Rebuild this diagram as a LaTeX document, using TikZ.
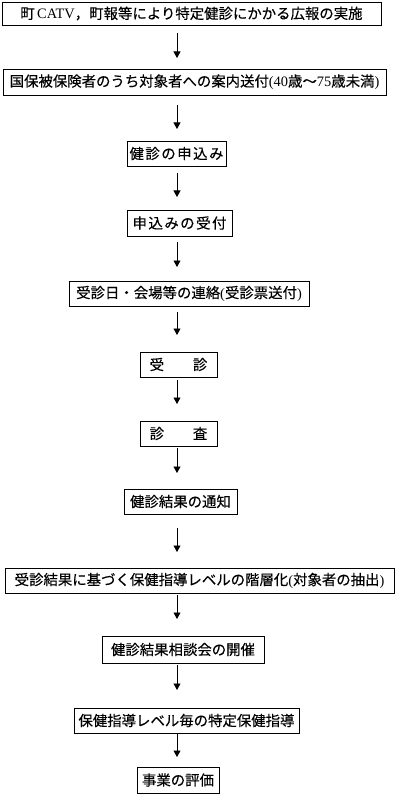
\documentclass[tikz,border=0pt]{standalone}
\usepackage{fontspec}
\setmainfont{Noto Sans CJK JP}[FakeBold=0.3]
\newfontfamily\lt{Liberation Serif}
\usetikzlibrary{arrows.meta}
\tikzset{
  box/.style={draw=black, line width=0.9pt, inner sep=0pt, fill=white,
    font=\fontsize{14.4pt}{16pt}\selectfont},
  arr/.style={line width=0.8pt, -{Triangle[length=6.5pt,width=7pt]}}
}
\begin{document}
\begin{tikzpicture}[x=1pt,y=-1pt]
\useasboundingbox[fill=white] (0,0) rectangle (402,794);
\node[box, minimum width=379pt, minimum height=23pt] (b1) at (191.5,13.5) {町\,{\lt CATV}，町報等により特定健診にかかる広報の実施};
\node[box, minimum width=383pt, minimum height=26pt] (b2) at (194.5,82) {国保被保険者のうち対象者への案内送付{\lt (40}歳～{\lt 75}歳未満{\lt )}};
\node[box, minimum width=99pt, minimum height=25pt] (b3) at (176.5,153.5) {健\kern1.5pt 診\kern1.5pt の\kern1.5pt 申\kern1.5pt 込\kern1.5pt み};
\node[box, minimum width=105pt, minimum height=26pt] (b4) at (179.5,223) {申\kern1.5pt 込\kern1.5pt み\kern1.5pt の\kern1.5pt 受\kern1.5pt 付};
\node[box, minimum width=240pt, minimum height=25pt] (b5) at (189,293.5) {受診日・会場等の連絡{\lt (}受診票送付{\lt )}};
\node[box, minimum width=77pt, minimum height=25pt] (b6) at (178.5,364.5) {受　　診};
\node[box, minimum width=77pt, minimum height=25pt] (b7) at (178.5,433.5) {診　　査};
\node[box, minimum width=113pt, minimum height=25pt] (b8) at (180.5,501.5) {健診結果の通知};
\node[box, minimum width=389pt, minimum height=25pt] (b9) at (199.5,580.5) {受診結果に基づく保健指導レベルの階層化{\lt (}対象者の抽出{\lt )}};
\node[box, minimum width=162pt, minimum height=27pt] (b10) at (183,649.5) {健診結果相談会の開催};
\node[box, minimum width=225pt, minimum height=25pt] (b11) at (186.5,720.5) {保健指導レベル毎の特定保健指導};
\node[box, minimum width=82pt, minimum height=26pt] (b12) at (178,780) {事業の評価};
% arrow end points
\foreach \i/\s/\e in {1/33/58, 2/105/129, 3/173/197, 4/242/267, 5/312/335, 6/380/404, 7/448/473, 8/528/552, 9/595/619, 10/665/690, 11/733/757}{
  \coordinate (s\i) at (177,\s);
  \coordinate (e\i) at (177,\e);
}
\draw[arr] (s1) -- (e1);
\draw[arr] (s2) -- (e2);
\draw[arr] (s3) -- (e3);
\draw[arr] (s4) -- (e4);
\draw[arr] (s5) -- (e5);
\draw[arr] (s6) -- (e6);
\draw[arr] (s7) -- (e7);
\draw[arr] (s8) -- (e8);
\draw[arr] (s9) -- (e9);
\draw[arr] (s10) -- (e10);
\draw[arr] (s11) -- (e11);
\end{tikzpicture}
\end{document}
